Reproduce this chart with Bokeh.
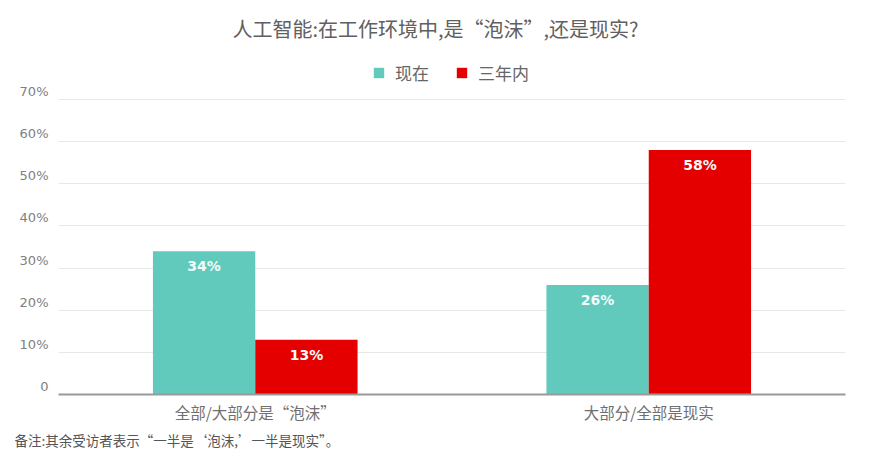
from bokeh.plotting import figure
from bokeh.models import (FactorRange, Range1d, FixedTicker, Title, Legend, LegendItem,
                          ColumnDataSource, Label, CustomJSTickFormatter)
from bokeh.transform import dodge
from bokeh.core.properties import value
from bokeh.embed import file_html
from bokeh.resources import INLINE

categories = ["全部/大部分是“泡沫”", "大部分/全部是现实"]
series_names = ["现在", "三年内"]
now_values = [34, 26]
three_year_values = [13, 58]
y_ticks = [0, 10, 20, 30, 40, 50, 60, 70]
y_tick_labels = ["0", "10%", "20%", "30%", "40%", "50%", "60%", "70%"]
title_text = "人工智能:在工作环境中,是“泡沫”,还是现实?"
note_text = "备注:其余受访者表示“一半是‘泡沫,’一半是现实”。"

TEAL = "#62C9BD"
RED = "#E50000"
CJK = "Noto Sans CJK SC"
NUM = "DejaVu Sans"

W, H = 863, 453
FL, FR = 58, 18
FRAME_BOTTOM = 394      # px from top of canvas to the zero line
TOP_TICK_PX = 99        # px from top of canvas to the 70% grid line
Y_TOP = 70
# the frame reaches the canvas top, so title and legend live inside it
y_end = Y_TOP * FRAME_BOTTOM / (FRAME_BOTTOM - TOP_TICK_PX)
# tick labels sit a few pixels above their grid lines
LABEL_RAISE_PX = 8
label_shift = LABEL_RAISE_PX * y_end / FRAME_BOTTOM

p = figure(width=W, height=H, x_range=FactorRange(*categories, range_padding=0),
           y_range=Range1d(0, y_end), output_backend="svg", toolbar_location=None,
           title=None,
           min_border_left=FL, min_border_right=FR, min_border_top=0,
           min_border_bottom=H - FRAME_BOTTOM)
p.outline_line_color = None
p.background_fill_color = "white"
p.border_fill_color = "white"

src = ColumnDataSource(dict(cat=categories, now=now_values, later=three_year_values,
                            now_lbl=[f"{v}%" for v in now_values],
                            later_lbl=[f"{v}%" for v in three_year_values]))

bw = 0.26
r1 = p.vbar(x=dodge("cat", -bw / 2, range=p.x_range), top="now", width=bw, source=src,
            fill_color=TEAL, line_color=None)
r2 = p.vbar(x=dodge("cat", bw / 2, range=p.x_range), top="later", width=bw, source=src,
            fill_color=RED, line_color=None)

for off, col in [(-bw / 2, "now"), (bw / 2, "later")]:
    p.text(x=dodge("cat", off, range=p.x_range), y=col, text=col + "_lbl", source=src,
           text_color="#f4fbfa", text_font=value(NUM), text_font_style="bold",
           text_font_size="14px", text_align="center", text_baseline="top", y_offset=7)

# y axis: grid on the real ticks, labels raised slightly above them
p.ygrid.ticker = FixedTicker(ticks=y_ticks)
p.yaxis.ticker = FixedTicker(ticks=[t + label_shift for t in y_ticks])
p.yaxis.formatter = CustomJSTickFormatter(args=dict(labels=y_tick_labels),
                                          code="return labels[index];")
p.yaxis.axis_line_color = None
p.yaxis.major_tick_line_color = None
p.yaxis.minor_tick_line_color = None
p.yaxis.major_label_text_font = NUM
p.yaxis.major_label_text_font_size = "13px"
p.yaxis.major_label_text_color = "#808080"
p.yaxis.major_label_standoff = 4

p.xaxis.axis_line_color = "#9a9a9a"
p.xaxis.axis_line_width = 2
p.xaxis.major_tick_line_color = None
p.xaxis.minor_tick_line_color = None
p.xaxis.major_label_text_font = CJK
p.xaxis.major_label_text_font_size = "15.5px"
p.xaxis.major_label_text_color = "#707070"
p.xaxis.major_label_standoff = 0

p.xgrid.grid_line_color = None
p.ygrid.grid_line_color = "#e8e8e8"
p.ygrid.grid_line_width = 1

# legend inside the (tall) frame, above the 70% line
legend = Legend(items=[LegendItem(label=series_names[0], renderers=[r1]),
                       LegendItem(label=series_names[1], renderers=[r2])],
                orientation="horizontal", location=(372 - FL, FRAME_BOTTOM - 85),
                glyph_width=13, glyph_height=13, label_standoff=10, spacing=26,
                padding=0, margin=0, border_line_color=None, background_fill_alpha=0,
                label_height=20,
                label_text_font=CJK, label_text_font_size="17px", label_text_color="#666666")
p.add_layout(legend, "center")

p.add_layout(Label(x=435 - FL, y=FRAME_BOTTOM - 28, x_units="screen", y_units="screen",
                   text=title_text, text_font=CJK, text_font_size="20px",
                   text_color="#606060", text_align="center", text_baseline="middle"))

p.add_layout(Title(text=note_text, text_font=CJK, text_font_size="13.5px",
                   text_font_style="normal", text_color="#555555", align="left",
                   offset=14 - FL, standoff=4), "below")

open("out.html", "w").write(file_html(p, INLINE))
